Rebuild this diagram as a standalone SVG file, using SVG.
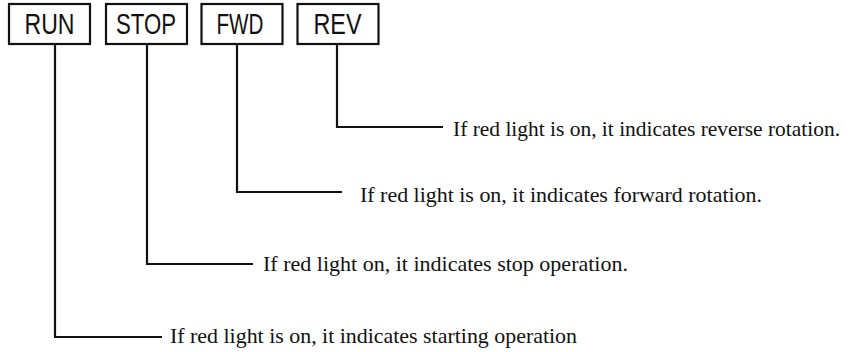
<svg xmlns="http://www.w3.org/2000/svg" width="856" height="352" viewBox="0 0 856 352">
<style>
.box{fill:#fff;stroke:#111;stroke-width:2.2}
.lbl{font-family:"Liberation Sans",Arial,sans-serif;font-size:29px;fill:#111;text-anchor:middle}
.wire{fill:none;stroke:#111;stroke-width:2.2}
.note{font-family:"Liberation Serif","Times New Roman",serif;font-size:22px;fill:#111}
</style>
<rect width="856" height="352" fill="#fff"/>
<g id="run"><rect class="box" x="9" y="4" width="81" height="40"/><text class="lbl" x="49.5" y="34" textLength="50" lengthAdjust="spacingAndGlyphs">RUN</text></g>
<g id="stop"><rect class="box" x="106" y="4" width="81" height="40"/><text class="lbl" x="146" y="34" textLength="60" lengthAdjust="spacingAndGlyphs">STOP</text></g>
<g id="fwd"><rect class="box" x="201.5" y="4" width="81" height="40"/><text class="lbl" x="240" y="34" textLength="47" lengthAdjust="spacingAndGlyphs">FWD</text></g>
<g id="rev"><rect class="box" x="297.5" y="4" width="81" height="40"/><text class="lbl" x="337.5" y="34" textLength="48" lengthAdjust="spacingAndGlyphs">REV</text></g>
<g id="connectors">
<path class="wire" d="M55,44 V337 H162"/>
<path class="wire" d="M147,44 V264 H253"/>
<path class="wire" d="M237,44 V192 H342"/>
<path class="wire" d="M337,44 V127 H443"/>
</g>
<g id="notes">
<text class="note" x="453" y="136" textLength="387" lengthAdjust="spacingAndGlyphs">If red light is on, it indicates reverse rotation.</text>
<text class="note" x="360" y="202" textLength="402" lengthAdjust="spacingAndGlyphs">If red light is on, it indicates forward rotation.</text>
<text class="note" x="263" y="271" textLength="365" lengthAdjust="spacingAndGlyphs">If red light on, it indicates stop operation.</text>
<text class="note" x="170" y="343" textLength="407" lengthAdjust="spacingAndGlyphs">If red light is on, it indicates starting operation</text>
</g>
</svg>
